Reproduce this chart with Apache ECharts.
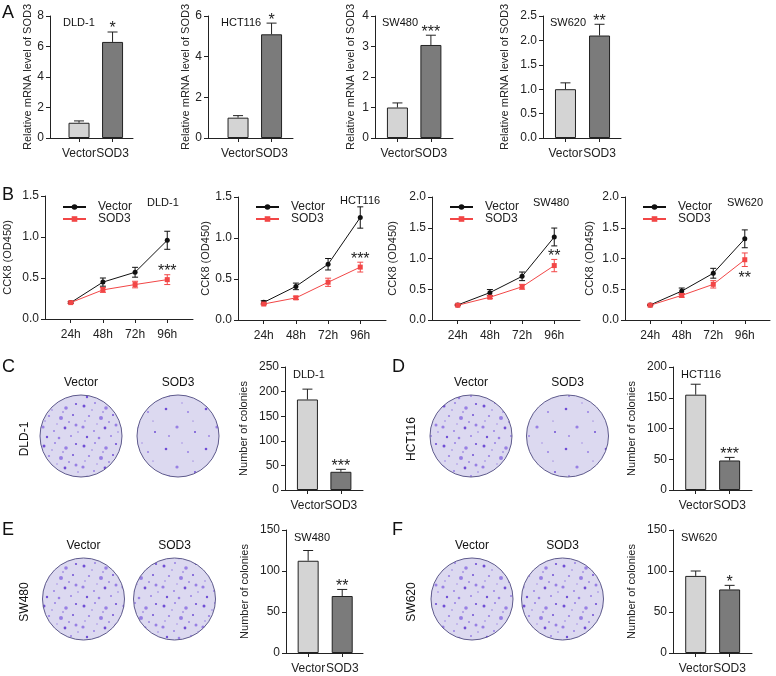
<!DOCTYPE html>
<html>
<head>
<meta charset="utf-8">
<script src="https://cdn.jsdelivr.net/npm/echarts@6/dist/echarts.min.js"></script>
<style>
  html, body { margin: 0; padding: 0; background: #fff; }
  #main { width: 776px; height: 676px; }
</style>
</head>
<body>
<div id="main"></div>
<script>
// ---- data ----
var groups = ['Vector', 'SOD3'];
var timePoints = ['24h', '48h', '72h', '96h'];
var cellLines = ['DLD-1', 'HCT116', 'SW480', 'SW620'];

// A: relative mRNA level of SOD3
var mrnaMean = [[1.0, 6.3], [1.0, 5.1], [1.0, 3.05], [1.0, 2.1]];
var mrnaErr = [[0.12, 0.65], [0.1, 0.55], [0.15, 0.32], [0.13, 0.23]];
var mrnaStars = ['*', '*', '***', '**'];
var mrnaMax = [8, 6, 4, 2.5];
var mrnaStep = [2, 2, 1, 0.5];

// B: CCK8 (OD450)
var cckVector = [[0.2, 0.45, 0.57, 0.96], [0.215, 0.41, 0.68, 1.25], [0.245, 0.445, 0.71, 1.35], [0.245, 0.47, 0.76, 1.32]];
var cckVectorErr = [[0.01, 0.05, 0.06, 0.11], [0.02, 0.04, 0.07, 0.13], [0.01, 0.05, 0.07, 0.145], [0.01, 0.05, 0.08, 0.145]];
var cckSod3 = [[0.2, 0.355, 0.42, 0.48], [0.195, 0.27, 0.46, 0.645], [0.24, 0.37, 0.54, 0.885], [0.24, 0.4, 0.58, 0.98]];
var cckSod3Err = [[0.01, 0.03, 0.04, 0.06], [0.01, 0.02, 0.05, 0.06], [0.01, 0.02, 0.04, 0.1], [0.01, 0.03, 0.06, 0.11]];
var cckStars = ['***', '***', '**', '**'];
var cckMax = [1.5, 1.5, 2, 2];

// C-F: number of colonies
var colonyMean = [[184, 37], [155, 48], [112.5, 69.5], [94, 77.5]];
var colonyErr = [[21, 5], [17, 5], [12.5, 8], [6, 5]];
var colonyStars = ['***', '***', '**', '*'];
var colonyMax = [250, 200, 150, 150];

// ---- layout ----
var FONT = '"Liberation Sans", Arial, sans-serif';
var barColors = ['#d4d4d4', '#7b7b7b'];
var vecColor = '#111';
var sodColor = '#f24646';
var mrnaBox = [[50, 16, 83, 122], [208, 16, 85, 122], [375, 16, 78, 122], [543, 16, 78, 122]];
var mrnaX = [[0.134, 2.61], [0.104, 2.64], [0.33, 2.66], [0.34, 2.63]];
var mrnaGap = [17, 16, 19, 33];
var cckBox = [[45, 196, 148, 123], [238, 197, 148, 123], [432, 197, 148, 123], [625, 197, 145, 123]];
var cckGap = [32, 22, 34, 30];
var cckTitle = [[147, 197], [340, 195], [533, 197], [727, 197]];
var colonyBox = [[285, 367, 78, 123], [673, 367, 79, 123], [286, 530, 77, 123], [673, 530, 79, 123]];
var colonyX = [[0.33, 2.66], [0.33, 2.66], [0.35, 2.61], [0.33, 2.66]];
var colonyGap = [36, 36, 36, 36];

var grids = [], xAxes = [], yAxes = [], series = [], legends = [], graphics = [];

var axisLine = { lineStyle: { color: '#222', width: 1 } };
var axisTick = { length: 4, lineStyle: { color: '#222', width: 1 } };

function addGrid(box, xr, xVals, xNames, yMax, yStep, yName, gap, decimals) {
  var i = grids.length;
  grids.push({ left: box[0], top: box[1], width: box[2], height: box[3], containLabel: false });
  xAxes.push({
    gridIndex: i, type: 'value', min: xr[0], max: xr[1],
    axisLine: axisLine, splitLine: { show: false },
    axisTick: { show: true, length: 4, lineStyle: axisTick.lineStyle, customValues: xVals },
    axisLabel: {
      customValues: xVals, margin: 10, fontSize: 12, color: '#222', fontFamily: FONT,
      hideOverlap: false, showMinLabel: true, showMaxLabel: true,
      formatter: function (v) { return xNames[Math.round(v) - 1]; }
    }
  });
  yAxes.push({
    gridIndex: i, type: 'value', min: 0, max: yMax, interval: yStep,
    axisLine: { show: true, lineStyle: axisLine.lineStyle }, axisTick: axisTick, splitLine: { show: false },
    axisLabel: {
      margin: 6, fontSize: 12, color: '#222', fontFamily: FONT,
      formatter: function (v) { return decimals ? v.toFixed(1) : String(v); }
    },
    name: yName, nameLocation: 'middle', nameGap: gap,
    nameTextStyle: { fontSize: 11, color: '#222', fontFamily: FONT }
  });
  return i;
}

function errRender(opt) {
  return function (params, api) {
    var x = api.value(0), m = api.value(1), e = api.value(2);
    var top = api.coord([x, m + e]);
    var base = api.coord([x, opt.both ? m - e : m]);
    var h = opt.cap / 2;
    var st = { stroke: opt.color, lineWidth: 1 };
    var kids = [
      { type: 'line', shape: { x1: top[0], y1: top[1], x2: top[0], y2: base[1] }, style: st },
      { type: 'line', shape: { x1: top[0] - h, y1: top[1], x2: top[0] + h, y2: top[1] }, style: st }
    ];
    if (opt.both) {
      kids.push({ type: 'line', shape: { x1: base[0] - h, y1: base[1], x2: base[0] + h, y2: base[1] }, style: st });
    }
    var star = opt.stars[params.dataIndex];
    if (star) {
      kids.push({
        type: 'text',
        style: {
          text: star, x: top[0], y: opt.below ? base[1] + 12 : top[1] - 3,
          align: 'center', verticalAlign: 'middle', font: '16px ' + FONT, fill: '#222'
        }
      });
    }
    return { type: 'group', children: kids };
  };
}

function addBars(gi, means, errs, star, cap) {
  series.push({
    type: 'bar', xAxisIndex: gi, yAxisIndex: gi, barWidth: 21, silent: true,
    data: means.map(function (v, k) {
      return { value: [k + 1, v], itemStyle: { color: barColors[k], borderColor: '#222', borderWidth: 1 } };
    })
  });
  series.push({
    type: 'custom', xAxisIndex: gi, yAxisIndex: gi, z: 5, silent: true,
    renderItem: errRender({ color: '#222', cap: cap, both: false, stars: ['', star] }),
    data: means.map(function (v, k) { return [k + 1, v, errs[k]]; })
  });
}

function addText(x, y, text, size, rot) {
  graphics.push({
    type: 'text', x: x, y: y, rotation: rot || 0,
    style: { text: text, font: size + 'px ' + FONT, fill: '#111', align: rot ? 'center' : 'left', verticalAlign: rot ? 'middle' : 'top' }
  });
}

// ---- panel A ----
cellLines.forEach(function (name, c) {
  var gi = addGrid(mrnaBox[c], mrnaX[c], [1, 2], groups, mrnaMax[c], mrnaStep[c],
    'Relative mRNA level of SOD3', mrnaGap[c], c === 3);
  addBars(gi, mrnaMean[c], mrnaErr[c], mrnaStars[c], 10);
  addText(mrnaBox[c][0] + (c < 2 ? 13 : 7), 17, name, 11);
});

// ---- panel B ----
cellLines.forEach(function (name, c) {
  var gi = addGrid(cckBox[c], [0.2, 4.8], [1, 2, 3, 4], timePoints, cckMax[c], 0.5,
    'CCK8 (OD450)', cckGap[c], true);
  var toXY = function (arr) { return arr.map(function (v, k) { return [k + 1, v]; }); };
  var withErr = function (arr, err) { return arr.map(function (v, k) { return [k + 1, v, err[k]]; }); };
  series.push({
    type: 'custom', xAxisIndex: gi, yAxisIndex: gi, silent: true, z: 3,
    renderItem: errRender({ color: vecColor, cap: 6, both: true, stars: [] }),
    data: withErr(cckVector[c], cckVectorErr[c])
  });
  series.push({
    type: 'custom', xAxisIndex: gi, yAxisIndex: gi, silent: true, z: 3,
    renderItem: errRender({ color: sodColor, cap: 6, both: true, below: c === 3, stars: ['', '', '', cckStars[c]] }),
    data: withErr(cckSod3[c], cckSod3Err[c])
  });
  series.push({
    name: 'Vector', type: 'line', xAxisIndex: gi, yAxisIndex: gi, z: 4,
    symbol: 'circle', symbolSize: 5, color: vecColor,
    lineStyle: { width: 1, color: vecColor }, itemStyle: { color: vecColor },
    data: toXY(cckVector[c])
  });
  series.push({
    name: 'SOD3', type: 'line', xAxisIndex: gi, yAxisIndex: gi, z: 4,
    symbol: 'rect', symbolSize: 5, color: sodColor,
    lineStyle: { width: 1, color: sodColor }, itemStyle: { color: sodColor },
    data: toXY(cckSod3[c])
  });
  legends.push({
    data: groups, orient: 'vertical', left: cckBox[c][0] + 12, top: 196,
    itemWidth: 23, itemHeight: 7, itemGap: 0, selectedMode: false,
    textStyle: { fontSize: 12, color: '#222', fontFamily: FONT, padding: [0, 0, 0, 7] }
  });
  addText(cckTitle[c][0], cckTitle[c][1], name, 11);
});

// ---- panels C-F ----
var colonyLetters = ['C', 'D', 'E', 'F'];
var dishCentres = [[[81, 436], [178, 436]], [[471, 436], [567.5, 436]], [[83.5, 599], [174.5, 599]], [[472, 599], [562.5, 599]]];

// plate texture (photo stand-in), fixed dot layout
function makeDish(dense) {
  var cv = document.createElement('canvas');
  cv.width = 40; cv.height = 40;
  var g = cv.getContext('2d');
  g.fillStyle = '#dcd9f0';
  g.fillRect(0, 0, 40, 40);
  var dots = dense
    ? [[4, 6, 1.5], [15, 3, 1], [26, 8, 1.8], [36, 4, 1.1], [9, 16, 1.1], [21, 18, 2], [33, 15, 1], [3, 27, 1.6],
       [14, 31, 1], [25, 28, 1.4], [36, 25, 1.5], [31, 36, 1], [7, 37, 1.2], [19, 38, 1.3], [12, 10, 0.8],
       [29, 22, 0.8], [17, 24, 0.7], [38, 32, 0.8], [23, 12, 0.7], [5, 21, 0.8]]
    : [[6, 9, 1.3], [28, 12, 1], [17, 27, 1.6], [35, 32, 1], [9, 36, 0.9], [22, 3, 0.7], [33, 21, 0.6]];
  dots.forEach(function (d, k) {
    g.fillStyle = k % 3 === 0 ? 'rgba(100,62,210,0.9)' : 'rgba(135,105,225,0.8)';
    g.beginPath(); g.arc(d[0], d[1], d[2], 0, Math.PI * 2); g.fill();
  });
  return cv;
}
var densePat = makeDish(true), sparsePat = makeDish(false);

cellLines.forEach(function (name, c) {
  var gi = addGrid(colonyBox[c], colonyX[c], [1, 2], groups, colonyMax[c], 50,
    'Number of colonies', colonyGap[c], false);
  addBars(gi, colonyMean[c], colonyErr[c], colonyStars[c], 10);
  addText(colonyBox[c][0] + 8, colonyBox[c][1] + 2, name, 11);
  var left = c % 2 === 0 ? 0 : 390;
  var rowY = c < 2 ? 367 : 530;
  addText(left + 2, rowY - 9, colonyLetters[c], 18);
  addText(left + (c % 2 === 0 ? 25 : 22), rowY + 72, name, 12, Math.PI / 2);
  dishCentres[c].forEach(function (p, k) {
    graphics.push({
      type: 'text', x: p[0], y: rowY + 16,
      style: { text: groups[k], font: '12px ' + FONT, fill: '#111', align: 'center', verticalAlign: 'middle' }
    });
    graphics.push({
      type: 'circle', shape: { cx: p[0], cy: p[1], r: 41 },
      style: {
        fill: { image: (k === 1 && c < 2) ? sparsePat : densePat, repeat: 'repeat' },
        stroke: '#5e5a8c', lineWidth: 1
      }
    });
  });
});

addText(2, 4, 'A', 18);
addText(2, 186, 'B', 18);

var chart = echarts.init(document.getElementById('main'));
chart.setOption({
  backgroundColor: '#fff',
  animation: false,
  textStyle: { fontFamily: FONT },
  grid: grids,
  xAxis: xAxes,
  yAxis: yAxes,
  legend: legends,
  series: series,
  graphic: graphics
});
</script>
</body>
</html>
